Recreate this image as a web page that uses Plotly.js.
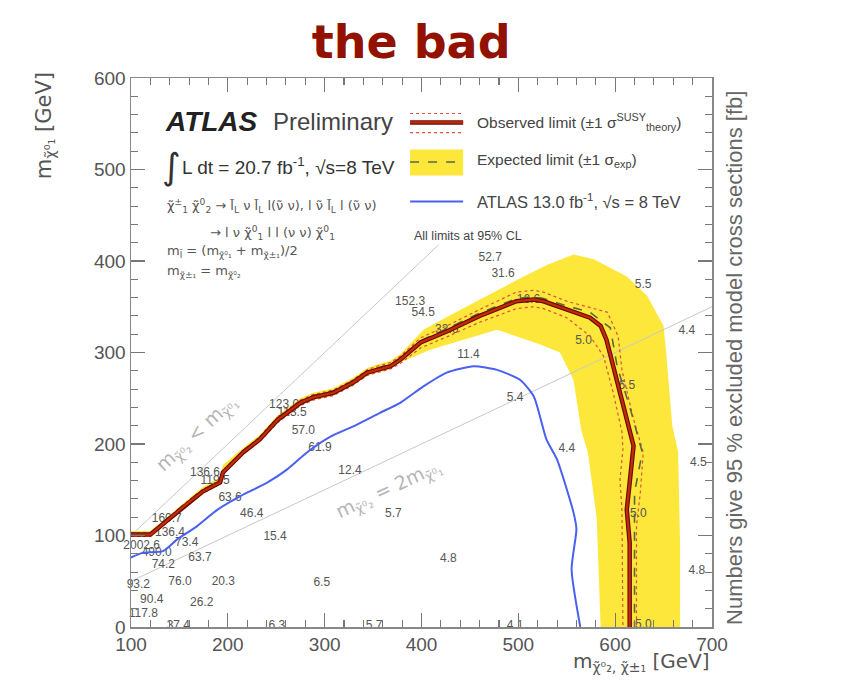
<!DOCTYPE html>
<html>
<head>
<meta charset="utf-8">
<script src="https://cdn.plot.ly/plotly-3.0.1.min.js"></script>
<style>html,body{margin:0;padding:0;background:#fff;}#chart{width:846px;height:693px;}</style>
</head>
<body>
<div id="chart"></div>
<script>
// ---- Observed limit (central) ----
const obsX = [100,120,137,157,174,192,195,216,233,251,275,288,309,329,344,354,368,378,399,426,460,498,516,526,550,574,585,591,598,605,609,619,612,615,615];
const obsY = [101,101,116,134,148,158,169,191,205,226,245,251,256,267,278,281,285,292,311,323,340,356,358,356,347,338,329,314,285,256,241,198,128,92,0];
// ---- Observed +1 sigma theory ----
const thUpX = [100,120,137,157,174,192,195,216,233,251,275,288,309,329,344,354,368,378,399,426,460,498,516,526,550,574,592,603,607,619,629,626,622,622];
const thUpY = [103,103,118,136,150,160,171,193,208,229,248,254,259,270,281,285,289,296,316,329,347,366,368,366,356,349,344,318,281,227,191,147,110,0];
// ---- Observed -1 sigma theory ----
const thDnX = [100,120,137,157,174,192,195,216,233,251,275,288,309,329,344,354,368,378,399,426,460,498,516,526,550,574,588,598,607,608,605,607,608];
const thDnY = [99,99,114,132,146,156,167,189,203,223,242,248,253,264,275,278,282,288,305,317,333,348,350,348,338,318,296,256,213,194,161,128,0];
// ---- Expected limit ----
const expX = [100,120,137,157,174,192,195,216,233,251,275,288,309,329,344,354,368,378,399,426,460,498,516,526,550,574,595,602,616,628,620,620];
const expY = [102,102,118,136,150,160,171,193,207,228,247,253,258,269,280,283,287,294,313,326,343,359,361,359,351,344,327,285,237,191,147,0];
// ---- Expected +-1 sigma band: upper and lower edges ----
const bandUpX = [100,120,137,157,174,192,195,216,233,251,275,288,309,329,344,354,368,378,402,430,460,500,530,557,578,612,633,650,653,659,665,667,667];
const bandUpY = [105,105,120,138,153,164,177,196,210,231,250,256,261,272,283,287,291,298,325,341,358,380,396,407,402,383,362,329,296,220,191,92,0];
const bandLoX = [100,120,137,157,174,192,195,216,233,251,275,288,309,329,344,354,368,378,409,478,522,543,557,565,572,581,585];
const bandLoY = [99,99,114,132,146,156,166,188,203,223,242,248,253,264,275,278,282,289,303,325,309,300,270,215,190,118,0];
// ---- ATLAS 13.0 fb-1 limit ----
const blueX = [100,112,133,148,168,189,213,241,261,282,306,329,357,378,402,426,454,478,502,516,529,540,557,560,555,564];
const blueY = [76,81,83,96,110,128,143,158,172,191,208,219,234,245,263,278,285,281,270,252,205,183,125,107,63,0];
// ---- kinematic reference lines ----
const diag1X = [100,418], diag1Y = [100,418];
const diag2X = [100,700], diag2Y = [50,350];
// ---- excluded cross-section numbers [fb] ----
const labX = [470.9,484.3,628.9,388.2,401.7,426.1,510.4,567.3,448.5,674,612,496.7,550.1,686,624,684.4,427.8,496.7,629.2,371,351,297,250.5,148.9,112.7,121.4,107.6,150.6,195.4,173,133.4,171.3,248.8,224.7,202.3,326.2,295.2,278,258.1,266.3,176.4,186.8,136.9,140.3,157.5,111,126.5];
const labY = [403.8,386.3,374.3,355.7,343.7,325.1,357.9,312.3,297.8,323.3,263.2,250.5,194,179.4,123,61,73.8,1,2.7,123,1.6,48.3,1,1,13.7,30,46.4,49,49,26.4,68.3,75.6,98.6,123,141.2,170.3,195.8,214,242.1,234.4,167.8,160.1,117.5,103,92,88.3,81];
const labT = ["52.7","31.6","5.5","152.3","54.5","33.6","16.6","5.0","11.4","4.4","6.5","5.4","4.4","4.5","5.0","4.8","4.8","4.1","5.0","5.7","5.7","6.5","6.3","37.4","117.8","90.4","93.2","76.0","20.3","26.2","74.2","63.7","15.4","46.4","63.6","12.4","61.9","57.0","123.0","113.5","136.6","119.5","160.7","136.4","73.4","2002.6","490.0"];
// ---- axis ticks ----
const xTicks = [100,200,300,400,500,600,700];
const yTicks = [0,100,200,300,400,500,600];

// build band polygon from its two edges
const bandX = bandUpX.concat(bandLoX.slice().reverse());
const bandY = bandUpY.concat(bandLoY.slice().reverse());

const FONT = 'Liberation Sans, Arial, sans-serif';
const SYM = 'DejaVu Sans, sans-serif';
const traces = [
  {x: bandX, y: bandY, type:'scatter', mode:'lines', fill:'toself', fillcolor:'#fde73a', line:{width:0, color:'#fde73a'}, hoverinfo:'skip'},
  {x: diag1X, y: diag1Y, type:'scatter', mode:'lines', line:{color:'#c8c8c8', width:1}},
  {x: diag2X, y: diag2Y, type:'scatter', mode:'lines', line:{color:'#c8c8c8', width:1}},
  {x: labX, y: labY, text: labT, type:'scatter', mode:'text', textfont:{family:FONT, size:12, color:'#555'}, cliponaxis:false},
  {x: thUpX, y: thUpY, type:'scatter', mode:'lines', line:{color:'#e0503a', width:1.2, dash:'dot'}},
  {x: thDnX, y: thDnY, type:'scatter', mode:'lines', line:{color:'#e0503a', width:1.2, dash:'dot'}},
  {x: expX, y: expY, type:'scatter', mode:'lines', line:{color:'#5d6840', width:1.6, dash:'dash'}},
  {x: obsX, y: obsY, type:'scatter', mode:'lines', line:{color:'#6a0c00', width:4.5}},
  {x: obsX, y: obsY, type:'scatter', mode:'lines', line:{color:'#c42a0c', width:2.2}},
  {x: blueX, y: blueY, type:'scatter', mode:'lines', line:{color:'#4a60f0', width:2, shape:'spline', smoothing:0.6}}
];

const ax = {
  showgrid:false, zeroline:false, showline:true, linecolor:'#888', linewidth:1.5,
  ticks:'inside', ticklen:14, tickwidth:1.2, tickcolor:'#777', mirror:'allticks',
  tickfont:{family:FONT, size:19, color:'#555'},
  minor:{ticks:'inside', ticklen:7, dtick:20, tickcolor:'#777', tickwidth:1.1}
};

const tc = '#555';
const ann = [
  {x:133, y:552.5, text:'<b><i>ATLAS</i></b>', font:{family:FONT, size:28, color:'#222'}},
  {x:244.5, y:552.5, text:'Preliminary', font:{family:FONT, size:24, color:'#444'}},
  {x:130, y:503.3, text:'∫', font:{family:SYM, size:36, color:'#333'}},
  {x:150.6, y:503.3, text:'L dt = 20.7 fb<sup>-1</sup>, √s=8 TeV', font:{family:FONT, size:19, color:'#333'}},
  {x:135.1, y:459.6, text:'χ̃<sup>±</sup><sub>1</sub> χ̃<sup>0</sup><sub>2</sub> → l̃<sub>L</sub> ν l̃<sub>L</sub> l(ν̃ ν), l ν̃ l̃<sub>L</sub> l (ν̃ ν)', font:{family:SYM, size:13, color:tc}},
  {x:179.5, y:431.1, text:'→ l ν χ̃<sup>0</sup><sub>1</sub> l l (ν ν) χ̃<sup>0</sup><sub>1</sub>', font:{family:SYM, size:13, color:tc}},
  {x:135.1, y:410, text:'m<sub>l̃</sub> = (m<sub>χ̃⁰₁</sub> + m<sub>χ̃±₁</sub>)/2', font:{family:SYM, size:13, color:tc}},
  {x:135.1, y:388.5, text:'m<sub>χ̃±₁</sub> = m<sub>χ̃⁰₂</sub>', font:{family:SYM, size:13, color:tc}},
  {x:455.4, y:551.4, text:'Observed limit (±1 σ<sup>SUSY</sup><sub>theory</sub>)', font:{family:FONT, size:15.5, color:'#444'}},
  {x:455.4, y:509.8, text:'Expected limit (±1 σ<sub>exp</sub>)', font:{family:FONT, size:15.5, color:'#444'}},
  {x:455.4, y:466, text:'ATLAS 13.0 fb<sup>-1</sup>, √s = 8 TeV', font:{family:FONT, size:16.5, color:'#444'}},
  {x:390.3, y:426.8, text:'All limits at 95% CL', font:{family:FONT, size:12.5, color:'#444'}},
].map(a => Object.assign({xref:'x', yref:'y', xanchor:'left', yanchor:'middle', showarrow:false}, a));

ann.push(
  {x:168.2, y:211.5, xref:'x', yref:'y', text:'m<sub>χ̃⁰₂</sub> &lt; m<sub>χ̃⁰₁</sub>', textangle:-43, showarrow:false, font:{family:SYM, size:19, color:'#b5b5b5'}},
  {x:366, y:150.3, xref:'x', yref:'y', text:'m<sub>χ̃⁰₂</sub> = 2m<sub>χ̃⁰₁</sub>', textangle:-25, showarrow:false, font:{family:SYM, size:19, color:'#b5b5b5'}},
  {x:1, y:-0.0646, xref:'paper', yref:'paper', xanchor:'right', yanchor:'middle', text:'m<sub>χ̃⁰₂, χ̃±₁</sub> [GeV]', showarrow:false, font:{family:SYM, size:20, color:'#555'}},
  {x:-0.148, y:0.912, xref:'paper', yref:'paper', xanchor:'center', yanchor:'middle', textangle:-90, text:'m<sub>χ̃⁰₁</sub> [GeV]', showarrow:false, font:{family:SYM, size:21, color:'#555'}},
  {x:1.0396, y:0.49, xref:'paper', yref:'paper', xanchor:'center', yanchor:'middle', textangle:-90, text:'Numbers give 95 % excluded model cross sections [fb]', showarrow:false, font:{family:FONT, size:22, color:'#666'}}
);

const shapes = [
  {type:'line', x0:388.2, x1:443, y0:561.2, y1:561.2, line:{color:'#e0503a', width:1.2, dash:'dot'}},
  {type:'line', x0:388.2, x1:443, y0:540.4, y1:540.4, line:{color:'#e0503a', width:1.2, dash:'dot'}},
  {type:'line', x0:388.2, x1:443, y0:551.4, y1:551.4, line:{color:'#6a0c00', width:4.5}},
  {type:'line', x0:388.2, x1:443, y0:551.4, y1:551.4, line:{color:'#c42a0c', width:2.2}},
  {type:'rect', x0:388.2, x1:443, y0:493.4, y1:521.9, fillcolor:'#fde73a', line:{width:0}},
  {type:'line', x0:388.2, x1:443, y0:508.2, y1:508.2, line:{color:'#5d6840', width:1.6, dash:'dash'}},
  {type:'line', x0:388.2, x1:443, y0:465, y1:465, line:{color:'#4a60f0', width:2}}
].map(s => Object.assign({xref:'x', yref:'y'}, s));

const layout = {
  width:846, height:693,
  margin:{l:131, r:134, t:78, b:66},
  paper_bgcolor:'#fff', plot_bgcolor:'#fff',
  showlegend:false,
  title:{text:'<b>the bad</b>', x:0.486, xref:'container', xanchor:'center', y:0.94, yref:'container', yanchor:'middle',
         font:{family:'DejaVu Sans, sans-serif', size:46, color:'#921100'}},
  xaxis:Object.assign({}, ax, {range:[100,700], tickvals:xTicks, ticktext:xTicks.map(String)}),
  yaxis:Object.assign({}, ax, {range:[0,600], tickvals:yTicks, ticktext:yTicks.map(String)}),
  annotations:ann,
  shapes:shapes
};

Plotly.newPlot('chart', traces, layout, {displayModeBar:false, staticPlot:true});
</script>
</body>
</html>
